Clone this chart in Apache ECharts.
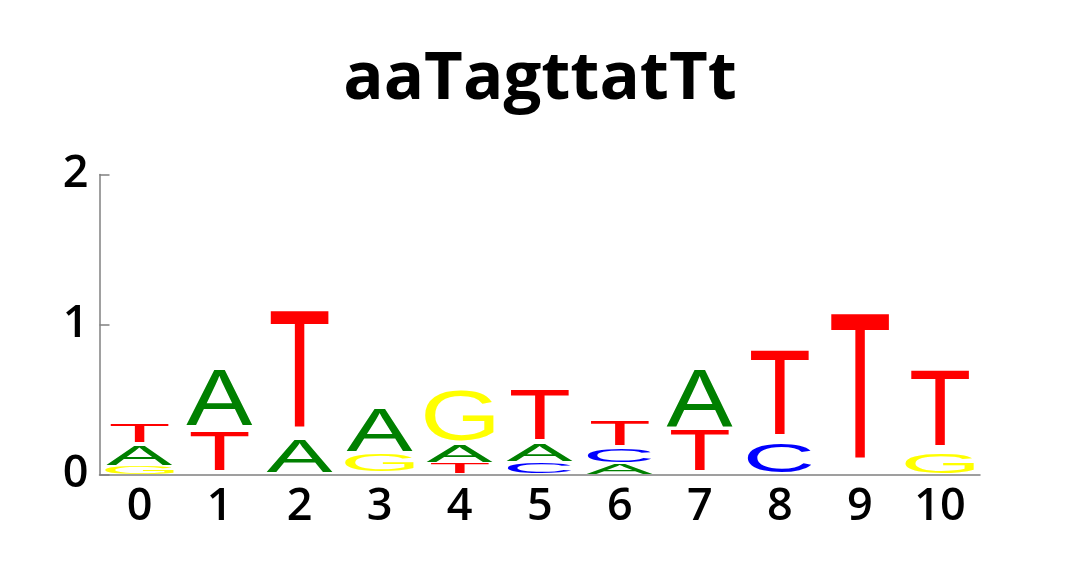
<!DOCTYPE html>
<html>
<head>
<meta charset="utf-8">
<script src="https://cdn.jsdelivr.net/npm/echarts@6/dist/echarts.min.js"></script>
<style>
html, body { margin: 0; padding: 0; background: #fff; }
#main { width: 1080px; height: 575px; }
</style>
</head>
<body>
<div id="main"></div>
<script>
var positions = ['0', '1', '2', '3', '4', '5', '6', '7', '8', '9', '10'];
var yTicks = [0, 1, 2];

// letter extents (bottom, top) in bits at each position, null = not drawn
var A_lo = [0.063, 0.33, 0.015, 0.159, 0.085, 0.09, 0.003, 0.325, null, null, null];
var A_hi = [0.192, 0.697, 0.23, 0.441, 0.197, 0.197, 0.07, 0.697, null, null, null];
var C_lo = [null, null, null, null, null, 0.008, 0.085, null, 0.012, null, null];
var C_hi = [null, null, null, null, null, 0.075, 0.175, null, 0.203, null, null];
var G_lo = [0.002, null, null, 0.019, 0.223, null, null, null, null, null, 0.008];
var G_hi = [0.052, null, null, 0.13, 0.552, null, null, null, null, null, 0.141];
var T_lo = [0.212, 0.028, 0.312, null, 0.008, 0.23, 0.192, 0.025, 0.265, 0.10, 0.192];
var T_hi = [0.33, 0.29, 1.09, null, 0.075, 0.559, 0.352, 0.29, 0.825, 1.07, 0.697];

var colors = { A: '#008000', C: '#0000ff', G: '#ffff00', T: '#ff0000' };
var widthFrac = { A: 0.83, C: 0.80, G: 0.86, T: 0.725 };
var GLYPH_FONT = '100px "Liberation Sans"';

// ink box of each glyph, measured with the same baseline zrender uses
var mctx = document.createElement('canvas').getContext('2d');
function inkBox(ch) {
    mctx.font = GLYPH_FONT;
    mctx.textAlign = 'left';
    mctx.textBaseline = 'middle';
    var m = mctx.measureText(ch);
    return { l: m.actualBoundingBoxLeft, r: m.actualBoundingBoxRight,
             a: m.actualBoundingBoxAscent, d: m.actualBoundingBoxDescent };
}

function letterSeries(letter, lo, hi) {
    var data = [];
    for (var i = 0; i < positions.length; i++) {
        if (lo[i] != null) data.push([i, lo[i], hi[i]]);
    }
    var box = inkBox(letter);
    return {
        name: letter,
        type: 'custom',
        data: data,
        encode: { x: 0, y: [1, 2] },
        renderItem: function (params, api) {
            var bot = api.coord([api.value(0), api.value(1)]);
            var top = api.coord([api.value(0), api.value(2)]);
            var w = api.size([1, 0])[0] * widthFrac[letter];
            var sx = w / (box.l + box.r);
            var sy = (bot[1] - top[1]) / (box.a + box.d);
            return {
                type: 'text',
                x: bot[0] - w / 2 + box.l * sx,
                y: top[1] + box.a * sy,
                scaleX: sx,
                scaleY: sy,
                style: {
                    text: letter,
                    font: GLYPH_FONT,
                    fill: colors[letter],
                    align: 'left',
                    verticalAlign: 'middle',
                    textAlign: 'left',
                    textVerticalAlign: 'middle'
                }
            };
        }
    };
}

var chart = echarts.init(document.getElementById('main'));

var option = {
    animation: false,
    title: {
        text: 'aaTagttatTt',
        left: 'center',
        top: 41,
        textStyle: {
            fontFamily: 'Open Sans',
            fontWeight: 'bold',
            fontSize: 67,
            color: '#000'
        }
    },
    grid: {
        left: 99.5,
        right: 100,
        top: 174.5,
        bottom: 100.5,
        containLabel: false
    },
    xAxis: {
        type: 'category',
        data: positions,
        boundaryGap: true,
        axisTick: { show: false },
        axisLine: { lineStyle: { color: '#808080', width: 1.5 } },
        axisLabel: {
            color: '#000',
            fontFamily: 'Open Sans',
            fontWeight: 600,
            fontSize: 45,
            margin: 10
        }
    },
    yAxis: {
        type: 'value',
        min: yTicks[0],
        max: yTicks[yTicks.length - 1],
        interval: 1,
        splitLine: { show: false },
        axisLine: { show: true, lineStyle: { color: '#808080', width: 1.5 } },
        axisTick: { show: true, inside: true, length: 10, lineStyle: { color: '#808080', width: 1.5 } },
        axisLabel: {
            color: '#000',
            fontFamily: 'Open Sans',
            fontWeight: 600,
            fontSize: 45,
            margin: 11
        }
    },
    series: [
        letterSeries('A', A_lo, A_hi),
        letterSeries('C', C_lo, C_hi),
        letterSeries('G', G_lo, G_hi),
        letterSeries('T', T_lo, T_hi)
    ]
};

chart.setOption(option);
</script>
</body>
</html>
